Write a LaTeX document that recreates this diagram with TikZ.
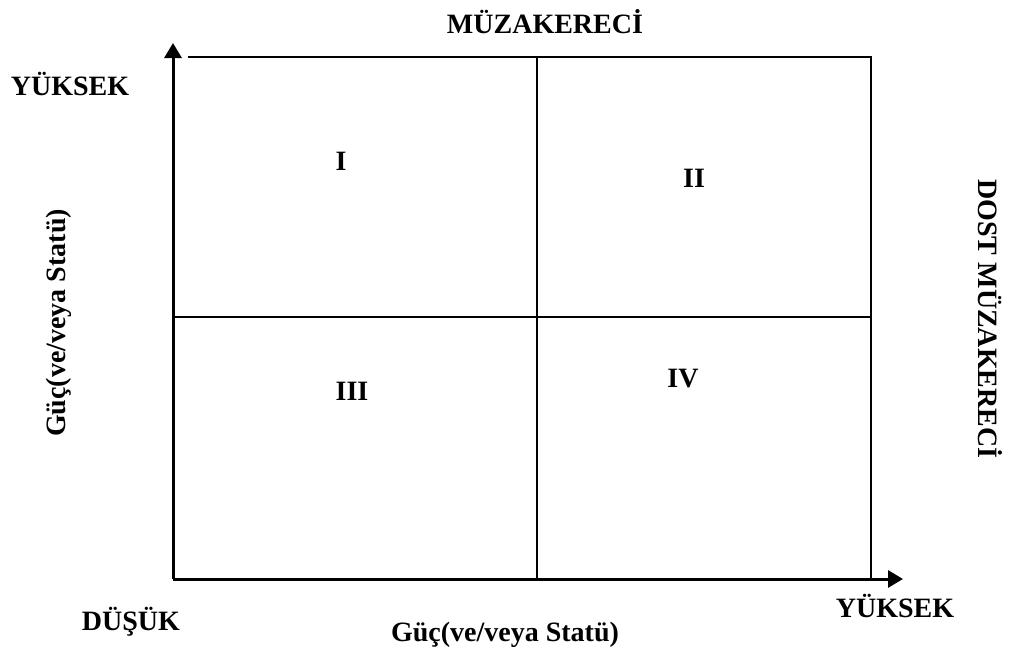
\documentclass[tikz,border=0pt]{standalone}
\usepackage{fontspec}
\setmainfont{Liberation Serif}
\usetikzlibrary{arrows.meta}

\begin{document}
\begin{tikzpicture}[
    x=0.5pt, y=-0.5pt,
    axis/.style={-{Triangle[length=7.5pt, width=8.5pt]}, line width=1.5pt},
    grid/.style={line width=1pt},
    label/.style={font=\fontsize{14}{16}\selectfont\bfseries, inner sep=0pt}
]
    \useasboundingbox (0,0) rectangle (1013,655);

    % frame corners
    \coordinate (origin) at (173,579);
    \coordinate (ytip) at (173,43);
    \coordinate (xtip) at (903,579);
    \coordinate (topL) at (188,57);
    \coordinate (topR) at (871,57);
    \coordinate (botR) at (871,579);
    \coordinate (midT) at (537,57);
    \coordinate (midB) at (537,579);
    \coordinate (midL) at (173,317);
    \coordinate (midR) at (871,317);

    \draw[axis] (origin) -- (ytip);
    \draw[axis] (origin) -- (xtip);
    \draw[grid] (topL) -- (topR) -- (botR);
    \draw[grid] (midT) -- (midB);
    \draw[grid] (midL) -- (midR);

    % quadrants
    \node[label] (q1) at (341,161) {I};
    \node[label] (q2) at (694,178) {II};
    \node[label] (q3) at (352,391) {III};
    \node[label] (q4) at (683,379) {IV};

    % axis texts
    \node[label] (top) at (545,22) {MÜZAKERECİ};
    \node[label] (yhigh) at (70,84) {YÜKSEK};
    \node[label] (low) at (131,622) {DÜŞÜK};
    \node[label] (xhigh) at (895,606) {YÜKSEK};
    \node[label] (xname) at (505,635) {Güç(ve/veya Statü)};
    \node[label, rotate=90] (yname) at (59,323) {Güç(ve/veya Statü)};
    \node[label, rotate=-90] (side) at (990,319) {DOST MÜZAKERECİ};
\end{tikzpicture}
\end{document}
